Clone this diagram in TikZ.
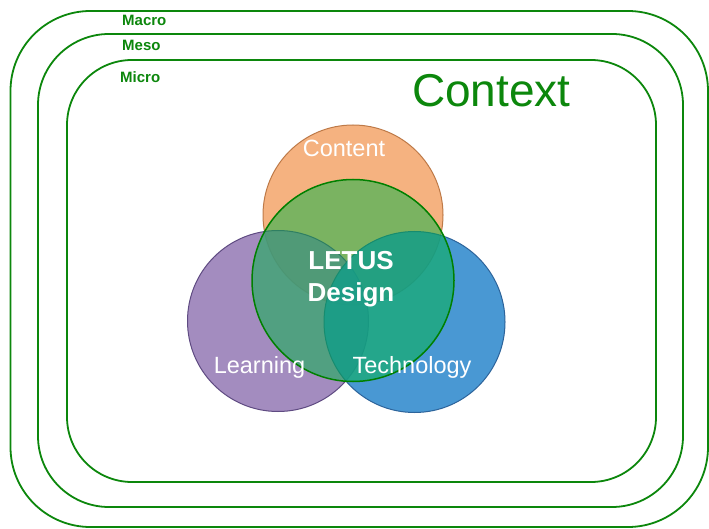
\documentclass[tikz,border=0pt]{standalone}
\usepackage{fontspec}
\setmainfont{Liberation Sans}
\definecolor{ctxgreen}{RGB}{12,135,12}
\definecolor{orfill}{RGB}{244,165,106}
\definecolor{ordraw}{RGB}{190,122,72}
\definecolor{pufill}{RGB}{147,120,180}
\definecolor{pudraw}{RGB}{95,75,130}
\definecolor{blfill}{RGB}{42,134,204}
\definecolor{bldraw}{RGB}{45,100,155}
\definecolor{grfill}{RGB}{0,180,68}
\definecolor{grdraw}{RGB}{0,128,0}
\begin{document}
\begin{tikzpicture}[x=1pt,y=-1pt,
  frame/.style={draw=ctxgreen,line width=1.8pt},
  level/.style={text=ctxgreen,font=\fontsize{15}{18}\selectfont\bfseries,anchor=west,inner sep=0pt},
  venn/.style={circle,inner sep=0pt,minimum size=#1,line width=1pt,fill opacity=0.85},
  lbl/.style={text=white,font=\fontsize{23.5}{28}\selectfont,inner sep=0pt}]
\useasboundingbox (0,0) rectangle (709,529);
\fill[white] (0,0) rectangle (709,529);
% context frames
\draw[frame,rounded corners=80pt] (10.5,11) rectangle (708,527);
\draw[frame,rounded corners=71pt] (38,34) rectangle (683,507);
\draw[frame,rounded corners=65pt] (67,60) rectangle (656,482);
\node[level] (macro) at (122,20.5) {Macro};
\node[level] (meso) at (122,45.5) {Meso};
\node[level] (micro) at (120,77.5) {Micro};
\node[text=ctxgreen,font=\fontsize{46}{52}\selectfont,anchor=west,inner sep=0pt] (context) at (412,91) {Context};
% venn circles
\node[venn=180pt,fill=orfill,draw=ordraw] (content) at (353,215) {};
\node[venn=181pt,fill=pufill,draw=pudraw] (learning) at (278,321) {};
\node[venn=181pt,fill=blfill,draw=bldraw] (technology) at (414.5,322) {};
\node[venn=202pt,fill=grfill,fill opacity=0.5,draw=grdraw,line width=1.5pt] (letus) at (353,280.5) {};
% labels
\node[lbl] (tcontent) at (344,148) {Content};
\node[lbl,anchor=base] (tlearning) at (259.5,373) {Learning};
\node[lbl,anchor=base] (ttech) at (412,373) {Technology};
\node[text=white,font=\fontsize{26}{32}\selectfont\bfseries,align=center,inner sep=0pt] (tletus) at (351,279) {LETUS\\Design};
\end{tikzpicture}
\end{document}
